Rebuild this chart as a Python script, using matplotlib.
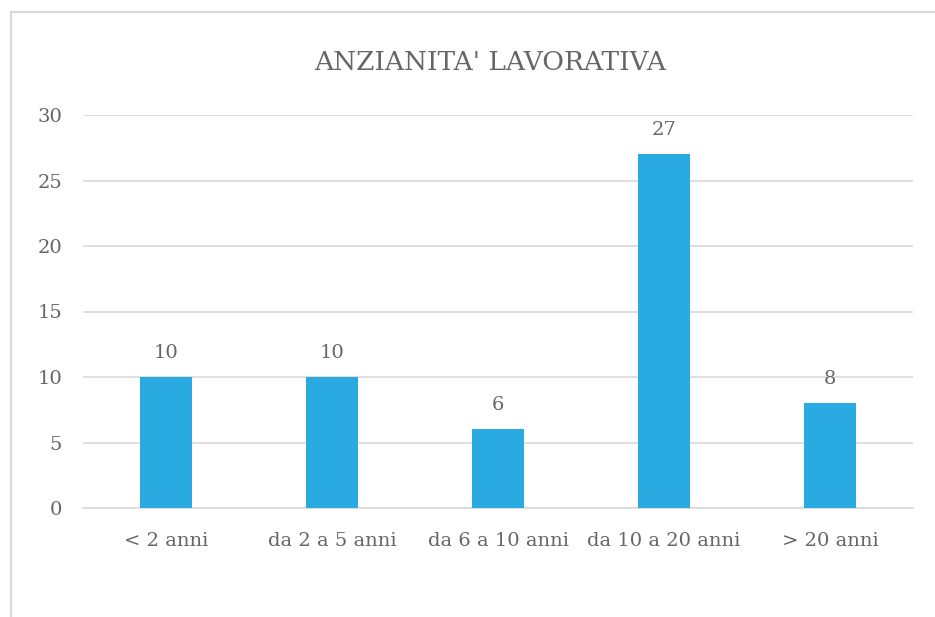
import matplotlib.pyplot as plt
import numpy as np

# data
categories = ["< 2 anni", "da 2 a 5 anni", "da 6 a 10 anni", "da 10 a 20 anni", "> 20 anni"]
values = [10, 10, 6, 27, 8]
yticks = [0, 5, 10, 15, 20, 25, 30]

bar_color = "#29abe2"
text_color = "#666666"
grid_color = "#d9d9d9"

plt.rcParams["font.family"] = ["DejaVu Serif"]

fig = plt.figure(figsize=(9.35, 6.17), dpi=100)
ax = fig.add_axes([83 / 935, 1 - 508 / 617, 830 / 935, 393 / 617])

x = np.arange(len(categories))
ax.bar(x, values, width=0.31, color=bar_color, zorder=3)

# value labels above bars
for xi, v in zip(x, values):
    ax.annotate(str(v), (xi, v), xytext=(0, 11), textcoords="offset points",
                ha="center", va="bottom", fontsize=14, color=text_color)

ax.set_xlim(-0.5, len(categories) - 0.5)
ax.set_ylim(0, 30)
ax.set_yticks(yticks)
ax.set_xticks(x)
ax.set_xticklabels(categories)
ax.tick_params(axis="both", length=0, labelsize=14, labelcolor=text_color)
ax.tick_params(axis="y", pad=15)
ax.tick_params(axis="x", pad=17)

ax.grid(axis="y", color=grid_color, linewidth=1.2, zorder=0)
for side in ["top", "right", "left"]:
    ax.spines[side].set_visible(False)
ax.spines["bottom"].set_color(grid_color)
ax.spines["bottom"].set_linewidth(1.2)

fig.text(490 / 935, 1 - 62 / 617, "ANZIANITA' LAVORATIVA", ha="center", va="center",
         fontsize=19, color=text_color)

# chart border (only the left and top edges are visible)
fig.add_artist(plt.Line2D([10.5 / 935, 10.5 / 935], [0, 1 - 12 / 617], color=grid_color, linewidth=1.5))
fig.add_artist(plt.Line2D([10.5 / 935, 1], [1 - 12 / 617, 1 - 12 / 617], color=grid_color, linewidth=1.5))

fig.savefig("out.png", dpi=100)
